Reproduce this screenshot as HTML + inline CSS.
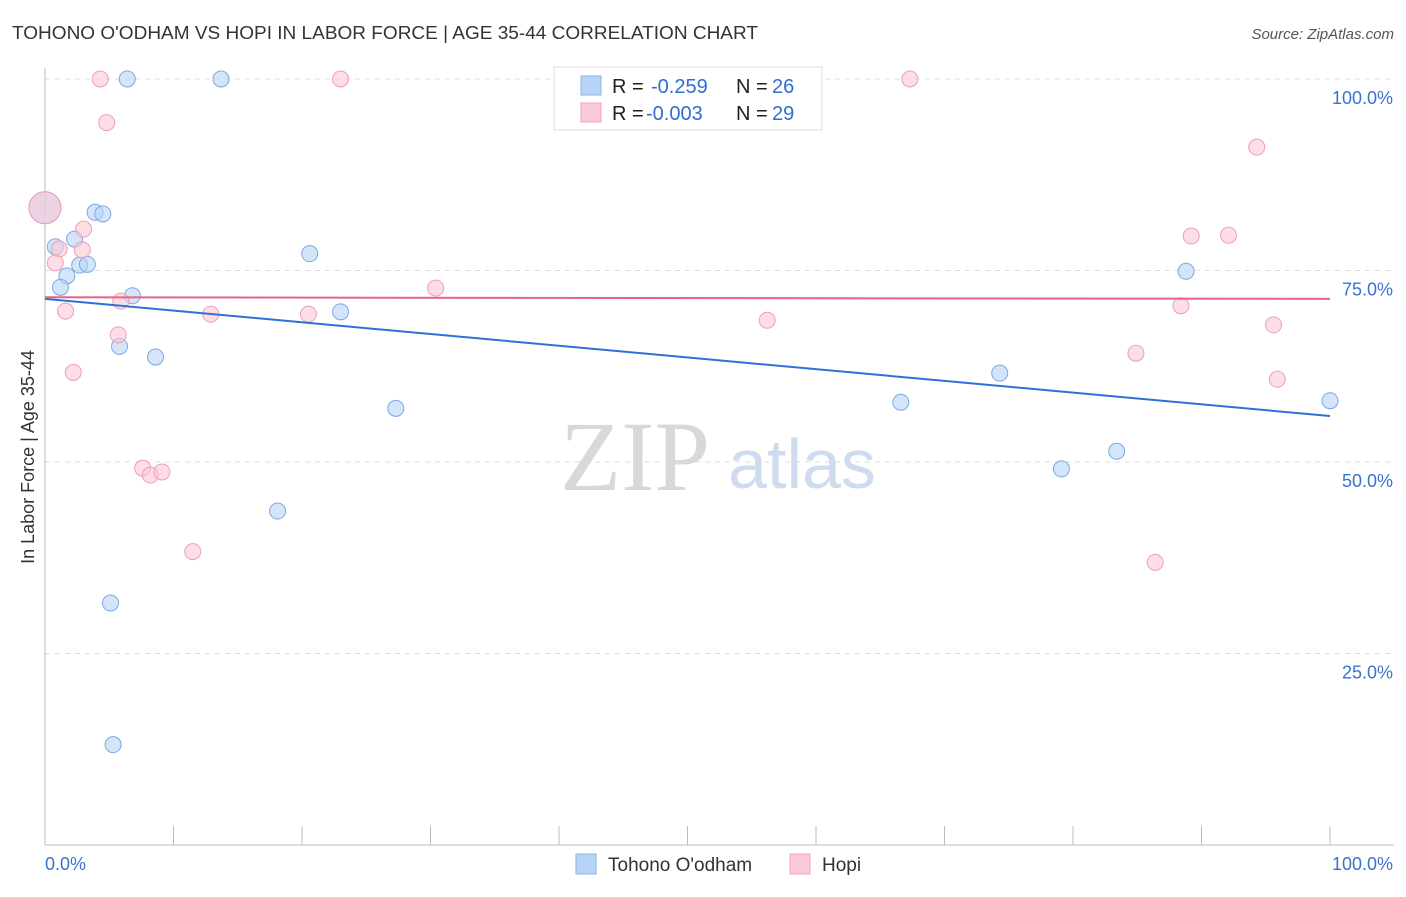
<!DOCTYPE html>
<html><head><meta charset="utf-8"><style>
body{margin:0;background:#fff;font-family:"Liberation Sans",sans-serif;}
</style></head><body>
<svg id="c" width="1406" height="892" xmlns="http://www.w3.org/2000/svg" font-family="Liberation Sans, sans-serif">
<text x="12" y="39" font-size="18" fill="#333" textLength="746" lengthAdjust="spacingAndGlyphs">TOHONO O'ODHAM VS HOPI IN LABOR FORCE | AGE 35-44 CORRELATION CHART</text>
<text x="1394" y="39" font-size="15" fill="#555" font-style="italic" text-anchor="end">Source: ZipAtlas.com</text>
<text x="0" y="0" transform="translate(34,457) rotate(-90)" font-size="18" fill="#333" text-anchor="middle">In Labor Force | Age 35-44</text>
<text x="635" y="490" font-size="100" fill="#d8d8d8" style="font-family:'Liberation Serif',serif" text-anchor="middle">ZIP</text>
<text x="802" y="488" font-size="70" fill="#cfdcf0" text-anchor="middle">atlas</text>
<g id="grid"></g><g id="axes"></g><g id="pts"></g><g id="lines"></g>
<g>
<rect x="554" y="67" width="268" height="63" fill="#fff" stroke="#ddd"/>
<rect x="581" y="76" width="20" height="19" fill="#b8d3f5" stroke="#8ab4ea"/>
<rect x="581" y="103" width="20" height="19" fill="#fcc9d8" stroke="#f2a3bc"/>
<text x="612" y="93" font-size="20" fill="#222">R = </text><text x="651" y="93" font-size="20" fill="#2e6fd0">-0.259</text>
<text x="736" y="93" font-size="20" fill="#222">N = </text><text x="772" y="93" font-size="20" fill="#2e6fd0">26</text>
<text x="612" y="120" font-size="20" fill="#222">R = </text><text x="646" y="120" font-size="20" fill="#2e6fd0">-0.003</text>
<text x="736" y="120" font-size="20" fill="#222">N = </text><text x="772" y="120" font-size="20" fill="#2e6fd0">29</text>
</g>
<g>
<rect x="576" y="854" width="20" height="20" fill="#b8d3f5" stroke="#8ab4ea"/>
<text x="608" y="871" font-size="19" fill="#333">Tohono O'odham</text>
<rect x="790" y="854" width="20" height="20" fill="#fcc9d8" stroke="#f2a3bc"/>
<text x="822" y="871" font-size="19" fill="#333">Hopi</text>
</g>
</svg>
<script>
const blueX=[6.4,13.7,0,0.8,2.3,3.9,4.5,1.7,1.2,2.7,3.3,6.8,5.8,8.6,20.6,23.0,27.3,18.1,5.1,5.3,66.6,74.3,79.1,83.4,88.8,100];
const blueY=[100,100,83.2,78.1,79.1,82.6,82.4,74.3,72.8,75.7,75.8,71.7,65.1,63.7,77.2,69.6,57.0,43.6,31.6,13.1,57.8,61.6,49.1,51.4,74.9,58.0];
const pinkX=[4.3,23.0,67.3,4.8,94.3,0,1.1,3.0,2.9,0.8,1.6,5.9,5.7,2.2,12.9,20.5,30.4,7.6,8.2,9.1,11.5,56.2,89.2,92.1,88.4,95.6,84.9,95.9,86.4];
const pinkY=[100,100,100,94.3,91.1,83.2,77.8,80.4,77.7,76.0,69.7,71.0,66.6,61.7,69.3,69.3,72.7,49.2,48.3,48.7,38.3,68.5,79.5,79.6,70.4,67.9,64.2,60.8,36.9];
const blueTrend=[71.3,56.0];
const pinkTrend=[71.5,71.3];
const yTicks=[25,50,75,100];
const yTickLabels=["25.0%","50.0%","75.0%","100.0%"];
const xs=v=>45+v*12.85, ys=v=>845-v*7.66;
const NS="http://www.w3.org/2000/svg";
function mk(p,t,a){const e=document.createElementNS(NS,t);for(const k in a)e.setAttribute(k,a[k]);document.getElementById(p).appendChild(e);return e;}
yTicks.forEach((t,i)=>{
 const l=mk('grid','line',{x1:45,x2:1394,y1:ys(t),y2:ys(t),stroke:'#ddd','stroke-dasharray':'5,5'});
 
 
 const tx=mk('grid','text',{x:1393,y:ys(t)+25,'font-size':18,fill:'#3a72d0','text-anchor':'end'});
 tx.textContent=yTickLabels[i];
 
 
});
let a=mk('axes','line',{x1:45,x2:45,y1:68,y2:845,stroke:'#bbb'});


a=mk('axes','line',{x1:45,x2:1394,y1:845,y2:845,stroke:'#bbb'});


for(let i=1;i<=10;i++){const t=mk('axes','line',{x1:xs(i*10),x2:xs(i*10),y1:826,y2:845,stroke:'#bbb'});
 
 }
let t0=mk('axes','text',{x:45,y:870,'font-size':18,fill:'#3a72d0'});t0.textContent='0.0%';


let t1=mk('axes','text',{x:1393,y:870,'font-size':18,fill:'#3a72d0','text-anchor':'end'});t1.textContent='100.0%';


function pts(X,Y,fill,stroke,name){X.forEach((x,i)=>{const big=x===0&&Y[i]>82;
 const c=mk('pts','circle',{cx:xs(x),cy:ys(Y[i]),r:big?16:8,fill:fill,'fill-opacity':0.6,stroke:stroke,'stroke-width':1});
 
 });}
pts(blueX,blueY,'#b8d3f5','#7aa8e6','tohono-point');
pts(pinkX,pinkY,'#fbc6d6','#ee9fb8','hopi-point');
let l1=mk('lines','line',{x1:xs(0),x2:xs(100),y1:ys(blueTrend[0]),y2:ys(blueTrend[1]),stroke:'#2e6fd8','stroke-width':2});


let l2=mk('lines','line',{x1:xs(0),x2:xs(100),y1:ys(pinkTrend[0]),y2:ys(pinkTrend[1]),stroke:'#e8628c','stroke-width':2});


</script>
</body></html>
